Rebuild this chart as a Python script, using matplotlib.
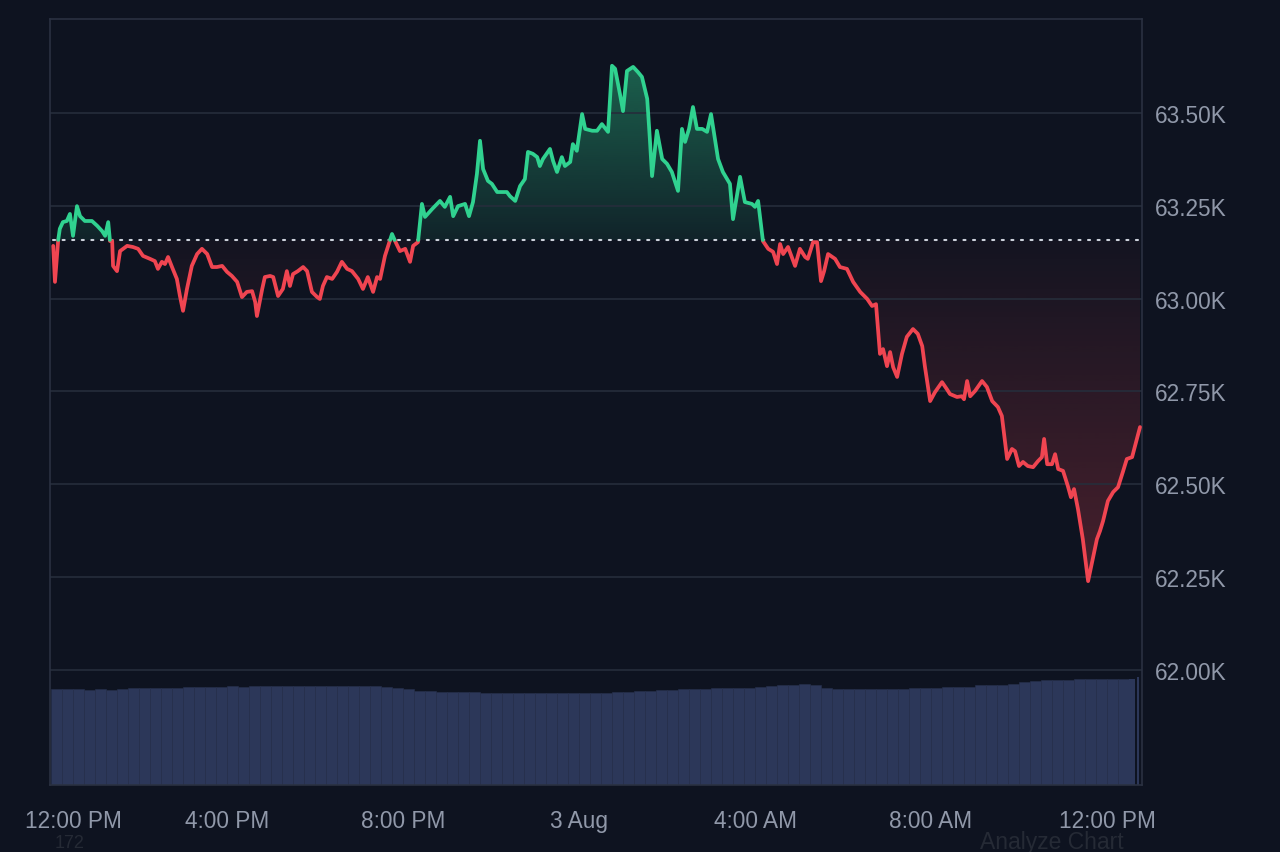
import numpy as np
import matplotlib
matplotlib.use("Agg")
import matplotlib.pyplot as plt
from matplotlib.patches import PathPatch

# ---------------- data ----------------
hours = [0.05, 0.09, 0.16, 0.20, 0.27, 0.36, 0.43, 0.50, 0.59, 0.66, 0.77, 0.93, 1.05, 1.16, 1.23,
         1.30, 1.34, 1.39, 1.41, 1.50, 1.57, 1.73, 1.86, 1.98, 2.09, 2.25, 2.36, 2.43, 2.52, 2.59,
         2.66, 2.75, 2.86, 2.93, 3.00, 3.09, 3.20, 3.32, 3.43, 3.55, 3.66, 3.77, 3.89, 4.00, 4.11,
         4.23, 4.34, 4.45, 4.57, 4.64, 4.68, 4.80, 4.86, 4.98, 5.05, 5.16, 5.27, 5.36, 5.43, 5.50,
         5.61, 5.73, 5.82, 5.93, 6.05, 6.11, 6.18, 6.27, 6.39, 6.50, 6.61, 6.73, 6.84, 6.98, 7.09,
         7.20, 7.32, 7.41, 7.48, 7.59, 7.75, 7.82, 7.93, 8.05, 8.16, 8.23, 8.34, 8.43, 8.50, 8.66,
         8.84, 8.95, 9.07, 9.14, 9.25, 9.41, 9.50, 9.59, 9.68, 9.75, 9.82, 9.93, 10.02, 10.14, 10.36,
         10.43, 10.55, 10.66, 10.77, 10.84, 10.95, 11.05, 11.11, 11.18, 11.34, 11.41, 11.50, 11.61, 11.68, 11.80,
         11.86, 11.95, 12.07, 12.14, 12.30, 12.41, 12.52, 12.66, 12.75, 12.82, 12.93, 13.00, 13.09, 13.23, 13.34,
         13.43, 13.55, 13.61, 13.66, 13.77, 13.89, 14.00, 14.11, 14.25, 14.34, 14.41, 14.50, 14.59, 14.68, 14.80,
         14.91, 15.00, 15.09, 15.16, 15.27, 15.43, 15.50, 15.66, 15.77, 15.93, 16.00, 16.07, 16.18, 16.30, 16.41,
         16.50, 16.57, 16.64, 16.75, 16.91, 17.02, 17.14, 17.20, 17.32, 17.41, 17.50, 17.57, 17.66, 17.82, 17.93,
         18.09, 18.23, 18.39, 18.55, 18.66, 18.75, 18.84, 18.91, 19.00, 19.07, 19.14, 19.23, 19.34, 19.45, 19.59,
         19.70, 19.80, 19.86, 19.98, 20.09, 20.25, 20.36, 20.43, 20.59, 20.70, 20.75, 20.82, 20.89, 21.00, 21.16,
         21.27, 21.39, 21.52, 21.61, 21.73, 21.84, 21.91, 22.00, 22.09, 22.20, 22.32, 22.43, 22.52, 22.57, 22.64,
         22.75, 22.82, 22.89, 23.00, 23.11, 23.18, 23.25, 23.34, 23.45, 23.57, 23.66, 23.77, 23.84, 23.91, 24.02,
         24.14, 24.25, 24.36, 24.45, 24.57, 24.68, 24.75]

prices = [63142, 63045, 63155, 63188, 63206, 63209, 63228, 63169, 63249, 63222, 63209, 63209, 63196, 63182, 63169,
          63206, 63155, 63155, 63088, 63074, 63128, 63142, 63139, 63134, 63115, 63107, 63101, 63080, 63099, 63093,
          63112, 63085, 63053, 63007, 62967, 63026, 63088, 63120, 63134, 63120, 63085, 63085, 63088, 63072, 63061,
          63045, 63004, 63018, 63020, 62991, 62953, 63026, 63058, 63061, 63058, 63007, 63026, 63074, 63034, 63066,
          63074, 63085, 63074, 63018, 63004, 62999, 63034, 63058, 63053, 63072, 63099, 63080, 63074, 63053, 63026,
          63058, 63018, 63058, 63053, 63115, 63174, 63155, 63128, 63134, 63099, 63142, 63152, 63255, 63220, 63241,
          63263, 63247, 63274, 63222, 63249, 63255, 63222, 63260, 63336, 63425, 63349, 63317, 63309, 63287, 63287,
          63276, 63263, 63303, 63322, 63395, 63390, 63381, 63357, 63376, 63403, 63371, 63341, 63381, 63357, 63368,
          63416, 63398, 63497, 63457, 63452, 63452, 63470, 63449, 63627, 63619, 63551, 63505, 63613, 63624, 63610,
          63597, 63538, 63430, 63330, 63452, 63376, 63363, 63341, 63290, 63457, 63422, 63457, 63516, 63457, 63457,
          63449, 63497, 63430, 63376, 63341, 63309, 63214, 63328, 63260, 63255, 63247, 63263, 63155, 63134, 63126,
          63093, 63147, 63120, 63139, 63088, 63134, 63112, 63107, 63152, 63152, 63047, 63074, 63120, 63107, 63085,
          63080, 63045, 63018, 62999, 62980, 62985, 62851, 62864, 62818, 62856, 62815, 62789, 62851, 62897, 62918,
          62905, 62872, 62818, 62724, 62748, 62775, 62756, 62743, 62735, 62737, 62729, 62778, 62737, 62751, 62778,
          62762, 62724, 62708, 62684, 62568, 62595, 62589, 62549, 62560, 62549, 62546, 62562, 62573, 62622, 62554,
          62554, 62581, 62541, 62536, 62495, 62465, 62487, 62433, 62352, 62239, 62290, 62352, 62374, 62401, 62455,
          62479, 62492, 62533, 62568, 62573, 62622, 62654]

base_price = 63158

volume = [30.1, 30.0, 30.1, 29.9, 30.0, 29.8,
          30.2, 30.3, 30.4, 30.3, 30.5, 30.4,
          30.6, 30.7, 30.6, 30.8, 30.9, 30.8, 30.9, 31.0, 30.9, 31.0,
          31.0, 31.1, 31.0, 31.1, 31.0, 30.9, 31.0, 30.9,
          30.6, 30.4, 30.0, 29.6,
          29.4, 29.2, 29.1, 29.0, 29.0, 28.9,
          28.9, 28.8, 28.8, 28.9, 28.8, 28.7, 28.8, 28.8, 28.9, 28.8, 28.9, 29.0, 29.1, 29.3,
          29.5, 29.7, 29.8, 30.0, 30.1, 30.2, 30.3, 30.4, 30.5, 30.5,
          30.8, 31.0, 31.2, 31.4, 31.5, 31.3,
          30.3, 30.2, 30.1, 30.2,
          30.1, 30.0, 30.1, 30.2, 30.3, 30.4, 30.5, 30.6, 30.7, 30.8,
          31.2, 31.3, 31.4, 31.6, 32.4, 32.6,
          32.8, 32.9, 33.0, 33.1, 33.2, 33.2, 33.1, 33.2]
vol_tail_hours = [24.50, 24.685]
vol_tail_widths = [0.14, 0.045]
vol_tail = [33.2, 33.8]

x_tick_pos = [0.5, 4, 8, 12, 16, 20, 24]
x_tick_labels = ["12:00 PM", "4:00 PM", "8:00 PM", "3 Aug", "4:00 AM", "8:00 AM", "12:00 PM"]
y_ticks = [62000, 62250, 62500, 62750, 63000, 63250, 63500]
y_tick_labels = ["62.00K", "62.25K", "62.50K", "62.75K", "63.00K", "63.25K", "63.50K"]

# ---------------- style ----------------
BG = "#0e1320"
GRID = "#262d3b"
FRAME = "#2a3141"
TXT = "#9098a9"
GREEN = "#30d290"
RED = "#f04551"
VOLC = "#2c3759"

plt.rcParams["font.family"] = ["Liberation Sans", "DejaVu Sans"]

XMIN, XMAX = -0.023, 24.795
YMIN, YMAX = 61690, 63753

fig = plt.figure(figsize=(12.8, 8.53), dpi=100, facecolor=BG)
pos = [50 / 1280, 1 - 786 / 853, 1092 / 1280, 766 / 853]

# volume axes (behind)
axv = fig.add_axes(pos)
axv.set_facecolor(BG)
vx = np.arange(len(volume)) * 0.25
axv.bar(vx, volume, width=0.25, align="edge", color=VOLC, edgecolor="#27304d", linewidth=0.4)
axv.bar(vol_tail_hours, vol_tail, width=vol_tail_widths, align="edge", color=VOLC, linewidth=0)
axv.set_xlim(XMIN, XMAX)
axv.set_ylim(0, 240)
axv.axis("off")

# price axes
ax = fig.add_axes(pos)
ax.set_facecolor("none")

h = np.array(hours, dtype=float)
p = np.array(prices, dtype=float)

# insert baseline crossings
xs, ys = [h[0]], [p[0]]
for i in range(1, len(h)):
    a, b = p[i - 1] - base_price, p[i] - base_price
    if a * b < 0:
        t = -a / (b - a)
        xs.append(h[i - 1] + t * (h[i] - h[i - 1]))
        ys.append(base_price)
    xs.append(h[i])
    ys.append(p[i])
xs = np.array(xs)
ys = np.array(ys)

# gradient fills
yy = np.linspace(base_price, YMAX, 256)
g_alpha = np.interp(yy, [base_price, 63650], [0.09, 0.42])
g_rgba = np.zeros((256, 1, 4))
g_rgba[..., :3] = matplotlib.colors.to_rgb(GREEN)
g_rgba[:, 0, 3] = g_alpha
im_g = ax.imshow(g_rgba, extent=[XMIN, XMAX, base_price, YMAX], origin="lower",
                 aspect="auto", zorder=1, interpolation="bilinear")
poly_g = ax.fill_between(xs, base_price, np.maximum(ys, base_price), facecolor="none", edgecolor="none")
patch_g = PathPatch(poly_g.get_paths()[0], transform=ax.transData, facecolor="none", edgecolor="none")
im_g.set_clip_path(patch_g)

yr = np.linspace(YMIN, base_price, 256)
r_alpha = np.interp(yr, [62200, base_price], [0.27, 0.03])
r_rgba = np.zeros((256, 1, 4))
r_rgba[..., :3] = matplotlib.colors.to_rgb(RED)
r_rgba[:, 0, 3] = r_alpha
im_r = ax.imshow(r_rgba, extent=[XMIN, XMAX, YMIN, base_price], origin="lower",
                 aspect="auto", zorder=1, interpolation="bilinear")
poly_r = ax.fill_between(xs, np.minimum(ys, base_price), base_price, facecolor="none", edgecolor="none")
patch_r = PathPatch(poly_r.get_paths()[0], transform=ax.transData, facecolor="none", edgecolor="none")
im_r.set_clip_path(patch_r)

# baseline
ax.plot([h[0], h[-1]], [base_price, base_price], color="#cdd2dc", lw=1.5,
        linestyle=(0, (1, 3.6)), zorder=2.6, dash_capstyle="round")

# price line split by baseline
g_line = np.ma.masked_where(ys < base_price, ys)
r_line = np.ma.masked_where(ys > base_price, ys)
ax.plot(xs, r_line, color=RED, lw=2.7, solid_joinstyle="round", solid_capstyle="round", zorder=3)
ax.plot(xs, g_line, color=GREEN, lw=2.7, solid_joinstyle="round", solid_capstyle="round", zorder=3)

ax.set_xlim(XMIN, XMAX)
ax.set_ylim(YMIN, YMAX)

ax.set_axisbelow("line")
ax.yaxis.grid(True, color=GRID, lw=1.2)
ax.xaxis.grid(False)

ax.yaxis.tick_right()
ax.set_yticks(y_ticks)
ax.set_yticklabels(y_tick_labels)
ax.set_xticks(x_tick_pos)
ax.set_xticklabels(x_tick_labels)
ax.tick_params(axis="y", length=0, pad=9, labelsize=16.3, colors=TXT)
ax.tick_params(axis="x", length=0, pad=17, labelsize=16.3, colors=TXT)

for side in ["left", "top", "right", "bottom"]:
    ax.spines[side].set_color(FRAME)
    ax.spines[side].set_linewidth(1.2)

# faint overlay texts at the bottom
fig.text(980 / 1280, 1 - 843 / 853, "Analyze Chart", color="#252a35", fontsize=16.5,
         ha="left", va="center")
fig.text(55 / 1280, 1 - 852 / 853, "172", color="#252a35", fontsize=13,
         ha="left", va="bottom")

fig.savefig("out.png", dpi=100, facecolor=BG)
